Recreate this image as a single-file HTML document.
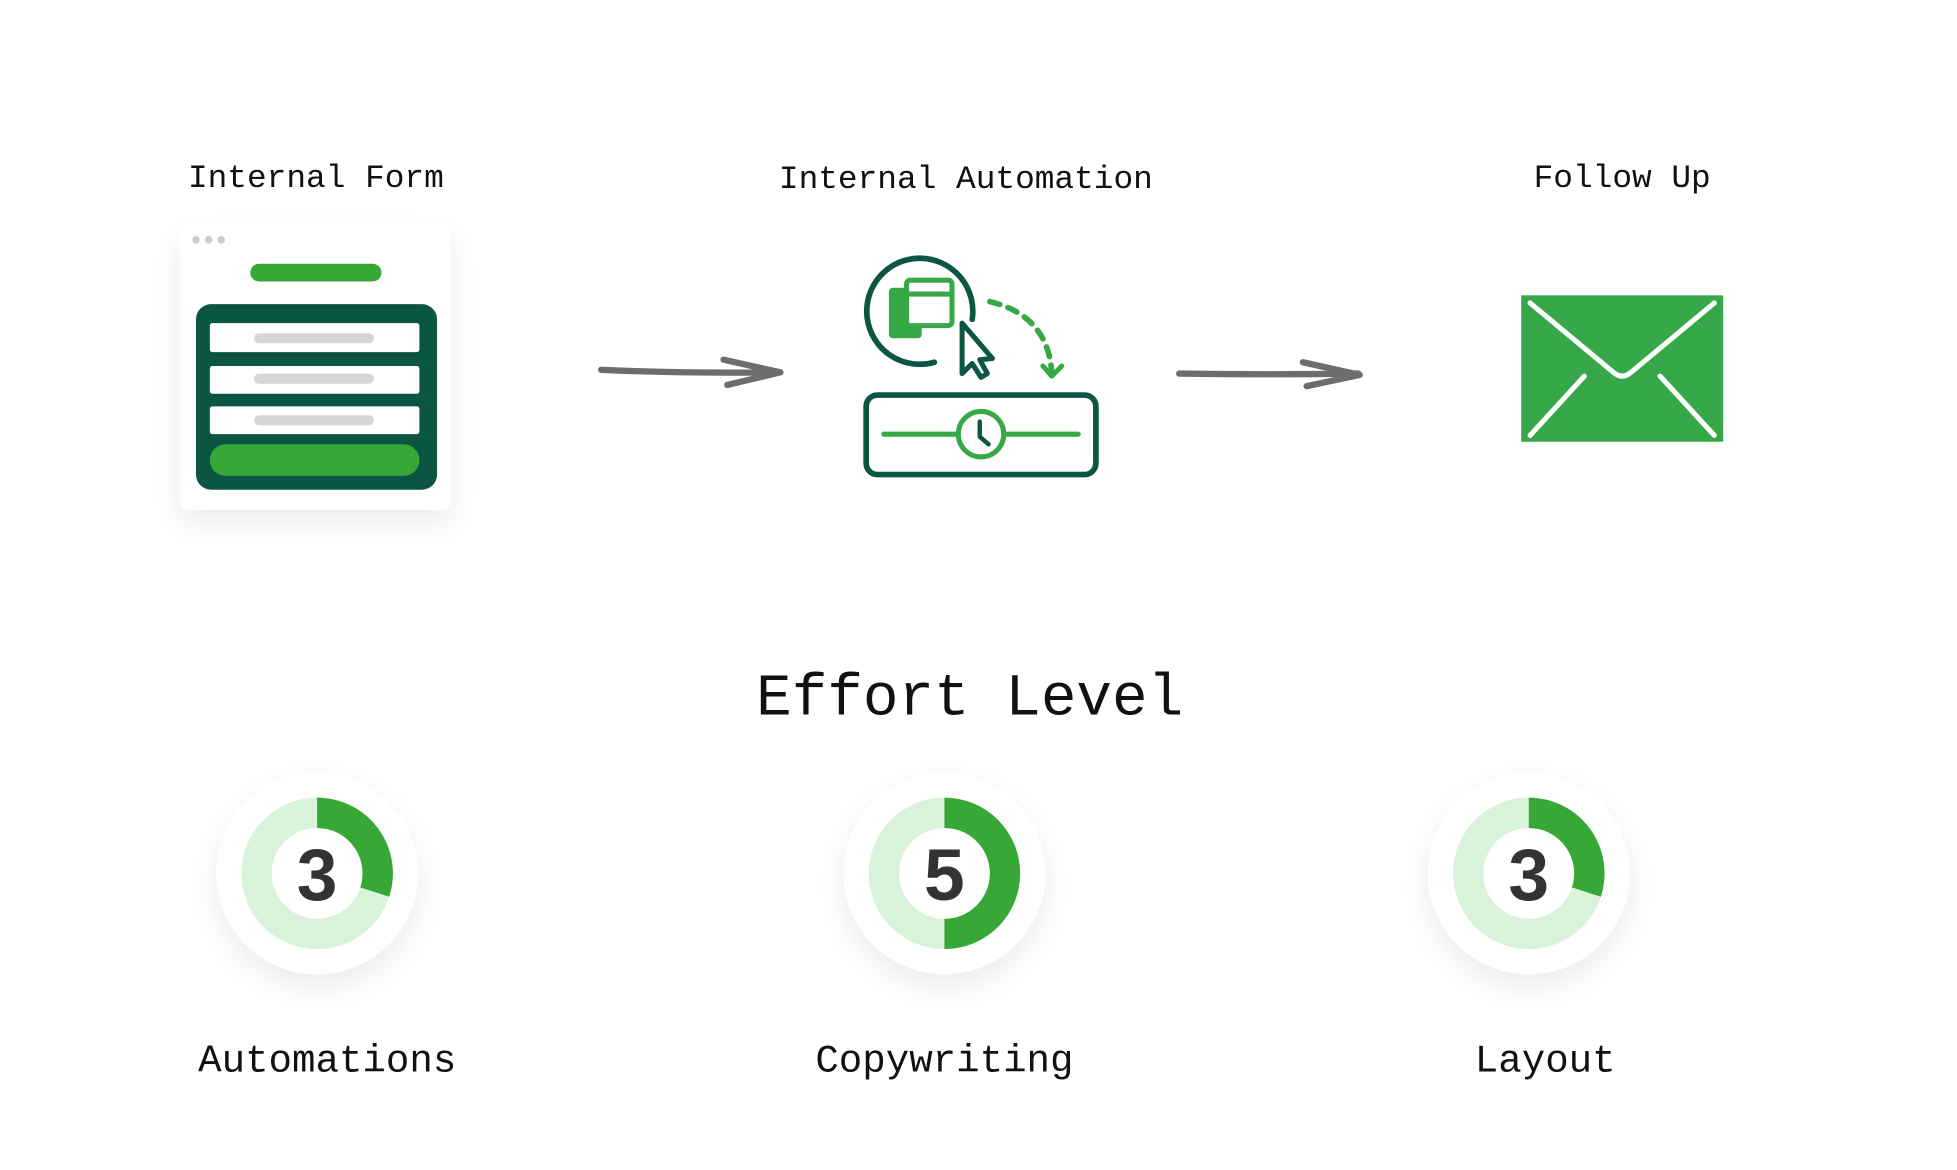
<!DOCTYPE html>
<html><head><meta charset="utf-8"><style>html,body{margin:0;padding:0;background:#fff}svg{display:block}</style></head>
<body>
<svg width="1957" height="1170" viewBox="0 0 1550 927" xmlns="http://www.w3.org/2000/svg">
<defs>
<filter id="sh" x="-30%" y="-30%" width="160%" height="170%"><feDropShadow dx="0" dy="10" stdDeviation="12" flood-color="#000" flood-opacity="0.08"/></filter>
</defs>
<rect width="1550" height="927" fill="#fff"/>
<g font-family="Liberation Mono, monospace" fill="#111">
<text x="250" y="148" font-size="26" text-anchor="middle">Internal Form</text>
<text x="765" y="149" font-size="26" text-anchor="middle">Internal Automation</text>
<text x="1285" y="148" font-size="26" text-anchor="middle">Follow Up</text>
<text x="768" y="566" font-size="47" text-anchor="middle">Effort Level</text>
<text x="259" y="849" font-size="31" text-anchor="middle">Automations</text>
<text x="748" y="849" font-size="31" text-anchor="middle">Copywriting</text>
<text x="1224" y="849" font-size="31" text-anchor="middle">Layout</text>
</g>
<!-- form card -->
<rect x="142" y="178" width="215" height="226" rx="7" fill="#fff" filter="url(#sh)"/>
<circle cx="155" cy="190" r="3" fill="#ccc"/><circle cx="165" cy="190" r="3" fill="#ccc"/><circle cx="175" cy="190" r="3" fill="#ccc"/>
<rect x="198" y="209" width="104" height="14" rx="7" fill="#37a836"/>
<rect x="155" y="241" width="191" height="147" rx="12" fill="#0b5642"/>
<rect x="166" y="256" width="166" height="23" rx="2" fill="#fff"/>
<rect x="166" y="290" width="166" height="22" rx="2" fill="#fff"/>
<rect x="166" y="322" width="166" height="22" rx="2" fill="#fff"/>
<rect x="201" y="264" width="95" height="8" rx="4" fill="#d6d6d6"/>
<rect x="201" y="296" width="95" height="8" rx="4" fill="#d6d6d6"/>
<rect x="201" y="329" width="95" height="8" rx="4" fill="#d6d6d6"/>
<rect x="166" y="352" width="166" height="25" rx="12.5" fill="#37a836"/>
<!-- arrows -->
<g fill="none" stroke="#6d6d6d" stroke-width="5" stroke-linecap="round" stroke-linejoin="round">
<path d="M476 293 Q540 296 617 295"/><path d="M573 285 L618 295 L576 305"/>
<path d="M934 296 Q1000 297 1076 296"/><path d="M1032 287 L1077 297 L1035 306"/>
</g>
<!-- automation -->
<g fill="none" stroke-linecap="round" stroke-linejoin="round">
<path d="M740 287 A42 42 0 1 1 770 253" stroke="#0b5642" stroke-width="4.5"/>
<rect x="704" y="228" width="26" height="40" rx="3" fill="#37a846"/>
<rect x="718" y="222" width="36" height="36" rx="3" fill="#fff" stroke="#37a846" stroke-width="4"/>
<line x1="720" y1="233" x2="752" y2="233" stroke="#37a846" stroke-width="4"/>
<path d="M784 239 Q830 250 833 295" stroke="#37a846" stroke-width="4.5" stroke-dasharray="8 7"/>
<path d="M826 290 L833 298 L841 290" stroke="#37a846" stroke-width="4"/>
<path d="M762 256 L762 296 L770 288 L777 299 L782 296 L776 285 L786 284 Z" stroke="#0b5642" stroke-width="4" fill="#fff"/>
<rect x="686" y="313" width="182" height="63" rx="9" stroke="#0b5642" stroke-width="4.5" fill="#fff"/>
<line x1="700" y1="344" x2="758" y2="344" stroke="#37a846" stroke-width="4"/>
<line x1="796" y1="344" x2="854" y2="344" stroke="#37a846" stroke-width="4"/>
<circle cx="777" cy="344" r="18" stroke="#37a846" stroke-width="4"/>
<path d="M776 334 L776 346 L783 352" stroke="#0b5642" stroke-width="3.5"/>
</g>
<!-- envelope -->
<rect x="1205" y="234" width="160" height="116" fill="#37a84a"/>
<g fill="none" stroke="#fff" stroke-width="4" stroke-linecap="round" stroke-linejoin="round">
<path d="M1212 240 L1278 295 Q1285 301 1292 295 L1358 240"/>
<path d="M1212 345 L1255 298"/><path d="M1358 345 L1315 298"/>
</g>
<!-- donuts -->
<g>
<circle cx="251" cy="692" r="80" fill="#fff" filter="url(#sh)"/>
<circle cx="251" cy="692" r="48" fill="none" stroke="#d9f2da" stroke-width="24"/>
<path d="M251 632 A60 60 0 0 1 308.1 710.5 L285.2 703.1 A36 36 0 0 0 251 656 Z" fill="#37a836"/>
<text x="251" y="713" font-family="Liberation Sans, sans-serif" font-size="58" font-weight="bold" fill="#333" text-anchor="middle">3</text>

<circle cx="748" cy="692" r="80" fill="#fff" filter="url(#sh)"/>
<circle cx="748" cy="692" r="48" fill="none" stroke="#d9f2da" stroke-width="24"/>
<path d="M748 632 A60 60 0 0 1 748 752 L748 728 A36 36 0 0 0 748 656 Z" fill="#37a836"/>
<text x="748" y="713" font-family="Liberation Sans, sans-serif" font-size="58" font-weight="bold" fill="#333" text-anchor="middle">5</text>

<circle cx="1211" cy="692" r="80" fill="#fff" filter="url(#sh)"/>
<circle cx="1211" cy="692" r="48" fill="none" stroke="#d9f2da" stroke-width="24"/>
<path d="M1211 632 A60 60 0 0 1 1268.1 710.5 L1245.2 703.1 A36 36 0 0 0 1211 656 Z" fill="#37a836"/>
<text x="1211" y="713" font-family="Liberation Sans, sans-serif" font-size="58" font-weight="bold" fill="#333" text-anchor="middle">3</text>
</g>
</svg>
</body></html>
